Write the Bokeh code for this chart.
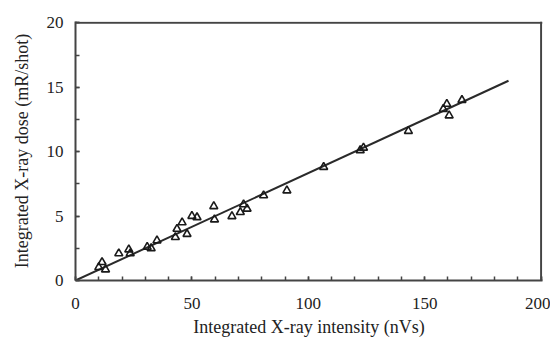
from bokeh.plotting import figure
from bokeh.models import FixedTicker, Range1d, Span
from bokeh.embed import file_html
from bokeh.resources import INLINE

intensity = [10.0, 11.4, 12.9, 18.6, 22.9, 23.5, 30.8, 32.5, 35.0, 42.9, 43.6, 45.8,
             47.9, 50.0, 52.2, 59.4, 59.7, 67.2, 70.8, 72.2, 73.7, 80.8, 90.8,
             106.6, 122.3, 123.7, 143.0, 158.0, 159.5, 160.5, 166.0]
dose = [1.03, 1.42, 0.85, 2.1, 2.4, 2.1, 2.6, 2.5, 3.1, 3.36, 4.0, 4.5,
        3.6, 5.0, 4.9, 5.76, 4.73, 4.98, 5.3, 5.9, 5.56, 6.6, 6.98,
        8.8, 10.1, 10.3, 11.6, 13.3, 13.7, 12.8, 14.0]
fit_x = [0, 186]
fit_y = [0, 15.5]
x_ticks = [0, 50, 100, 150, 200]
y_ticks = [0, 5, 10, 15, 20]
x_minor = list(range(0, 201, 10))
y_minor = [0, 2.5, 5, 7.5, 10, 12.5, 15, 17.5, 20]

# ranges end a hair past the last tick so the frame edges drawn at the last ticks stay inside the clip
p = figure(width=550, height=344, output_backend="svg", toolbar_location=None,
           x_range=Range1d(x_ticks[0], x_ticks[-1] * 1.003),
           y_range=Range1d(y_ticks[0], y_ticks[-1] * 1.005),
           min_border_left=75, min_border_right=8, min_border_top=21, min_border_bottom=64)
p.xgrid.visible = False
p.ygrid.visible = False
p.outline_line_color = None

p.add_layout(Span(location=x_ticks[-1], dimension="height", line_color="#444444", line_width=2))
p.add_layout(Span(location=y_ticks[-1], dimension="width", line_color="#444444", line_width=2))

p.line(fit_x, fit_y, line_color="#2a2a2a", line_width=2)
p.scatter(intensity, dose, marker="triangle", size=8, fill_color=None,
          line_color="#1a1a1a", line_width=1.6)

xax = p.xaxis[0]
yax = p.yaxis[0]
for ax, ticks, minor in ((xax, x_ticks, x_minor), (yax, y_ticks, y_minor)):
    ax.ticker = FixedTicker(ticks=ticks, minor_ticks=minor)
    ax.major_tick_in = 4
    ax.major_tick_out = 0
    ax.minor_tick_in = 4
    ax.minor_tick_out = 0
    ax.axis_line_color = "#444444"
    ax.axis_line_width = 2
    ax.major_tick_line_color = "#444444"
    ax.minor_tick_line_color = "#444444"
    ax.major_tick_line_width = 1.5
    ax.minor_tick_line_width = 1.5
    ax.major_label_text_font = "Liberation Serif"
    ax.major_label_text_font_size = "17px"
    ax.major_label_text_color = "#222222"
    ax.axis_label_text_font = "Liberation Serif"
    ax.axis_label_text_font_size = "18px"
    ax.axis_label_text_font_style = "normal"
    ax.axis_label_text_color = "#222222"

xax.axis_label = "Integrated X-ray intensity (nVs)"
yax.axis_label = "Integrated X-ray dose (mR/shot)"
xax.major_label_standoff = 17
xax.axis_label_standoff = 5
yax.major_label_standoff = 12
yax.axis_label_standoff = 12

open("out.html", "w").write(file_html(p, INLINE))
